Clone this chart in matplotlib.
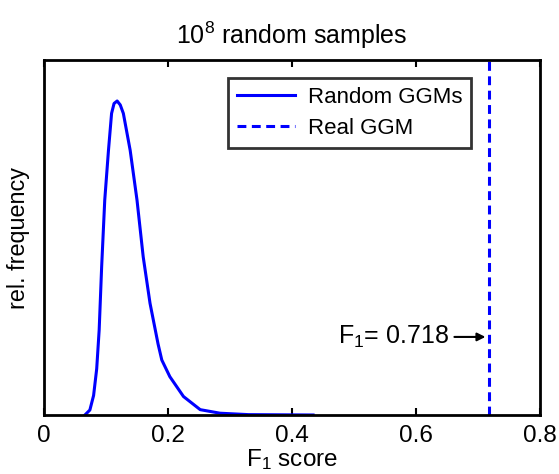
import matplotlib

matplotlib.use("Agg")

import matplotlib.pyplot as plt

# distribution of F1 scores for random GGMs
f1_vals = [0.066, 0.074, 0.080, 0.085, 0.089, 0.093, 0.098, 0.104, 0.109,
           0.113, 0.118, 0.123, 0.128, 0.139, 0.150, 0.160, 0.171, 0.184,
           0.190, 0.203, 0.225, 0.252, 0.284, 0.330, 0.434]
rel_freq = [0.0, 0.014, 0.055, 0.13, 0.24, 0.418, 0.606, 0.746, 0.85,
            0.878, 0.885, 0.874, 0.85, 0.746, 0.606, 0.446, 0.315, 0.20,
            0.155, 0.108, 0.052, 0.015, 0.005, 0.001, 0.0]
real_f1 = 0.718

plt.rcParams.update({
    "font.family": ["Liberation Sans", "DejaVu Sans"],
    "font.size": 17.5,
    "mathtext.fontset": "custom",
    "mathtext.rm": "Liberation Sans",
    "mathtext.it": "Liberation Sans:italic",
    "mathtext.bf": "Liberation Sans:bold",
})

fig = plt.figure(figsize=(5.59, 4.74), dpi=100)
ax = fig.add_axes([0.0787, 0.1245, 0.8873, 0.7485])

ax.plot(f1_vals, rel_freq, color="#0000ff", linewidth=2.2, label="Random GGMs")
ax.axvline(real_f1, color="#0000ff", linewidth=2.2, linestyle=(0, (2.9, 1.8)),
           label="Real GGM")

ax.set_xlim(0, 0.8)
ax.set_ylim(0, 1)
ax.set_xticks([0, 0.2, 0.4, 0.6, 0.8])
ax.set_xticklabels(["0", "0.2", "0.4", "0.6", "0.8"])
ax.set_yticks([])
ax.tick_params(axis="x", direction="in", top=True, length=5, width=1.5,
               pad=7, labelsize=17.5)
for sp in ax.spines.values():
    sp.set_linewidth(2.0)

ax.set_xlabel("F$_1$ score", fontsize=17.5, labelpad=0)
ax.set_ylabel("rel. frequency", fontsize=16.8, labelpad=10)
ax.set_title("10$^8$ random samples", fontsize=18, pad=12)

ax.annotate("F$_1$= 0.718", xy=(0.712, 0.22), xytext=(0.653, 0.22),
            ha="right", va="center", fontsize=18,
            arrowprops=dict(arrowstyle="-|>", color="black", lw=1.5,
                            shrinkA=2, shrinkB=0, mutation_scale=12))

leg = ax.legend(loc="upper left", bbox_to_anchor=(0.371, 0.95),
                frameon=True, fancybox=False, handlelength=2.6,
                borderpad=0.4, labelspacing=0.45, handletextpad=0.6,
                borderaxespad=0, fontsize=16)
leg.get_frame().set_edgecolor("black")
leg.get_frame().set_linewidth(2.0)

fig.savefig("out.png", dpi=100)
